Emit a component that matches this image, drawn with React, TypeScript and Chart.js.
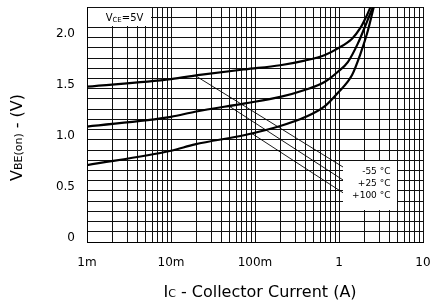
import React, { useEffect, useRef } from 'react';
import { Chart, registerables } from 'chart.js';

Chart.register(...registerables);

const FONT = '"DejaVu Sans", "Liberation Sans", sans-serif';

// VBE(on) vs IC curves (current in A, voltage in V)
const icM55 = [0.001, 0.01, 0.022, 0.076, 0.2, 0.39, 0.68, 0.97, 1.43, 1.78, 2.15, 2.4];
const vbeM55 = [1.52, 1.595, 1.635, 1.69, 1.73, 1.775, 1.83, 1.895, 1.99, 2.09, 2.22, 2.31];
const icP25 = [0.001, 0.01, 0.0193, 0.076, 0.2, 0.39, 0.68, 0.97, 1.28, 1.68, 2.15, 2.56];
const vbeP25 = [1.13, 1.225, 1.275, 1.357, 1.42, 1.487, 1.568, 1.666, 1.764, 1.944, 2.155, 2.31];
const icP100 = [0.001, 0.01, 0.0193, 0.076, 0.2, 0.39, 0.68, 0.97, 1.43, 1.78, 2.21, 2.61];
const vbeP100 = [0.753, 0.893, 0.956, 1.047, 1.135, 1.22, 1.33, 1.46, 1.634, 1.83, 2.07, 2.31];

// Leader lines from curves to labels
const leadM55Ic = [0.0193, 1.116];
const leadM55V = [1.63, 0.734];
const leadP25Ic = [0.0504, 1.116];
const leadP25V = [1.324, 0.607];
const leadP100Ic = [0.0913, 1.116];
const leadP100V = [1.063, 0.482];

// Label box
const tempLabels = ['-55 °C', '+25 °C', '+100 °C'];
const tempLabelV = [0.685, 0.568, 0.45];
const tempLabelIc = 4.1;
const tempBoxIc = [1.116, 5];
const tempBoxV = [0.8, 0.3];

const condBoxIc = [0.001, 0.006];
const condBoxV = [2.3, 2.1];

// Axes
const xDecades = [0.001, 0.01, 0.1, 1, 10];
const xDecadeLabels = ['1m', '10m', '100m', '1', '10'];
const yMin = 0;
const yMax = 2.3;
const yStep = 0.1;
const yLabelValues = [0, 0.5, 1, 1.5, 2];
const yLabelTexts = ['0', '0.5', '1.0', '1.5', '2.0'];

const pts = (xs: number[], ys: number[]) => xs.map((x, i) => ({ x, y: ys[i] }));

function drawParts(ctx: CanvasRenderingContext2D, parts: { t: string; s: number; dy?: number }[], cx: number, baseline: number) {
  let total = 0;
  for (const p of parts) {
    ctx.font = `${p.s}px ${FONT}`;
    total += ctx.measureText(p.t).width;
  }
  let x = cx - total / 2;
  ctx.textAlign = 'left';
  ctx.textBaseline = 'alphabetic';
  for (const p of parts) {
    ctx.font = `${p.s}px ${FONT}`;
    ctx.fillText(p.t, x, baseline + (p.dy || 0));
    x += ctx.measureText(p.t).width;
  }
}

const zeroPad = (s: any) => {
  s.paddingLeft = 0;
  s.paddingRight = 0;
  s.paddingTop = 0;
  s.paddingBottom = 0;
};

export default function App() {
  const ref = useRef<HTMLCanvasElement | null>(null);

  useEffect(() => {
    if (!ref.current) return;
    const xTicks: number[] = [];
    for (let d = 0; d < xDecades.length - 1; d++) {
      for (let m = 1; m <= 9; m++) xTicks.push(+(xDecades[d] * m).toPrecision(6));
    }
    xTicks.push(xDecades[xDecades.length - 1]);
    const yTicks: number[] = [];
    for (let v = yMin; v <= yMax + 1e-9; v += yStep) yTicks.push(Math.round(v * 1000) / 1000);

    const lineBase = { borderColor: '#000', pointRadius: 0, fill: false };

    const annot = {
      id: 'annot',
      beforeDatasetsDraw(chart: any) {
        const { ctx, scales } = chart;
        const xs = scales.x, ys = scales.y;
        ctx.save();
        ctx.fillStyle = '#fff';
        let l = Math.round(xs.getPixelForValue(condBoxIc[0])) + 1;
        let r = Math.round(xs.getPixelForValue(condBoxIc[1])) - 1;
        let t = Math.round(ys.getPixelForValue(condBoxV[0])) + 1;
        let b = Math.round(ys.getPixelForValue(condBoxV[1])) - 1;
        ctx.fillRect(l, t, r - l, b - t);
        ctx.fillStyle = '#000';
        drawParts(ctx, [
          { t: 'V', s: 10 },
          { t: 'CE', s: 7, dy: 0.5 },
          { t: '=5V', s: 10 },
        ], (l + r) / 2 + 5, (t + b) / 2 + 4);
        ctx.fillStyle = '#fff';
        l = Math.round(xs.getPixelForValue(tempBoxIc[0]));
        r = Math.round(xs.getPixelForValue(tempBoxIc[1])) - 1;
        t = Math.round(ys.getPixelForValue(tempBoxV[0])) + 1;
        b = Math.round(ys.getPixelForValue(tempBoxV[1])) - 1;
        ctx.fillRect(l, t, r - l, b - t);
        ctx.fillStyle = '#000';
        ctx.font = `9px ${FONT}`;
        ctx.textAlign = 'right';
        ctx.textBaseline = 'middle';
        const lx = xs.getPixelForValue(tempLabelIc);
        tempLabels.forEach((s, i) => ctx.fillText(s, lx, ys.getPixelForValue(tempLabelV[i])));
        ctx.restore();
      },
      afterDraw(chart: any) {
        const { ctx, chartArea } = chart;
        ctx.save();
        ctx.fillStyle = '#000';
        drawParts(ctx, [
          { t: 'I', s: 16 },
          { t: 'C', s: 11 },
          { t: ' - Collector Current (A)', s: 16 },
        ], (chartArea.left + chartArea.right) / 2 + 5, 297);
        ctx.translate(22, (chartArea.top + chartArea.bottom) / 2 + 13);
        ctx.rotate(-Math.PI / 2);
        drawParts(ctx, [
          { t: 'V', s: 16 },
          { t: 'BE(on)', s: 11 },
          { t: ' - (V)', s: 16 },
        ], 0, 0);
        ctx.restore();
      },
    };

    const chart = new Chart(ref.current, {
      type: 'line',
      data: {
        datasets: [
          { ...lineBase, data: pts(icM55, vbeM55), borderWidth: 2.2, cubicInterpolationMode: 'monotone' },
          { ...lineBase, data: pts(icP25, vbeP25), borderWidth: 2.2, cubicInterpolationMode: 'monotone' },
          { ...lineBase, data: pts(icP100, vbeP100), borderWidth: 2.2, cubicInterpolationMode: 'monotone' },
          { ...lineBase, data: pts(leadM55Ic, leadM55V), borderWidth: 0.9 },
          { ...lineBase, data: pts(leadP25Ic, leadP25V), borderWidth: 0.9 },
          { ...lineBase, data: pts(leadP100Ic, leadP100V), borderWidth: 0.9 },
        ] as any,
      },
      options: {
        animation: false,
        responsive: true,
        maintainAspectRatio: false,
        layout: { padding: { top: 7, right: 10, left: 0, bottom: 0 } },
        plugins: { legend: { display: false }, tooltip: { enabled: false } },
        scales: {
          x: {
            type: 'logarithmic',
            min: 0.001,
            max: 10,
            afterBuildTicks: (s: any) => { s.ticks = xTicks.map((v) => ({ value: v })); },
            afterFit: (s: any) => { s.height = 58; zeroPad(s); },
            grid: { color: '#111', lineWidth: 1, drawTicks: false },
            border: { color: '#000', width: 1 },
            ticks: {
              autoSkip: false,
              maxRotation: 0,
              padding: 14,
              color: '#000',
              font: { family: FONT, size: 12 },
              callback: (v: any) => {
                const i = xDecades.findIndex((d) => Math.abs(d - v) / d < 1e-6);
                return i >= 0 ? xDecadeLabels[i] : '';
              },
            },
          },
          y: {
            type: 'linear',
            min: yMin,
            max: yMax,
            afterBuildTicks: (s: any) => { s.ticks = yTicks.map((v) => ({ value: v })); },
            afterFit: (s: any) => { s.width = 87; zeroPad(s); },
            grid: { color: '#111', lineWidth: 1, drawTicks: false },
            border: { color: '#000', width: 1 },
            ticks: {
              autoSkip: false,
              padding: 12,
              labelOffset: -4,
              color: '#000',
              font: { family: FONT, size: 12 },
              callback: (v: any) => {
                const i = yLabelValues.findIndex((d) => Math.abs(d - v) < 1e-6);
                return i >= 0 ? yLabelTexts[i] : '';
              },
            },
          },
        },
      } as any,
      plugins: [annot],
    });
    return () => chart.destroy();
  }, []);

  return (
    <div style={{ position: 'fixed', left: 0, top: 0, width: 433, height: 300, background: '#fff' }}>
      <canvas ref={ref} />
    </div>
  );
}
